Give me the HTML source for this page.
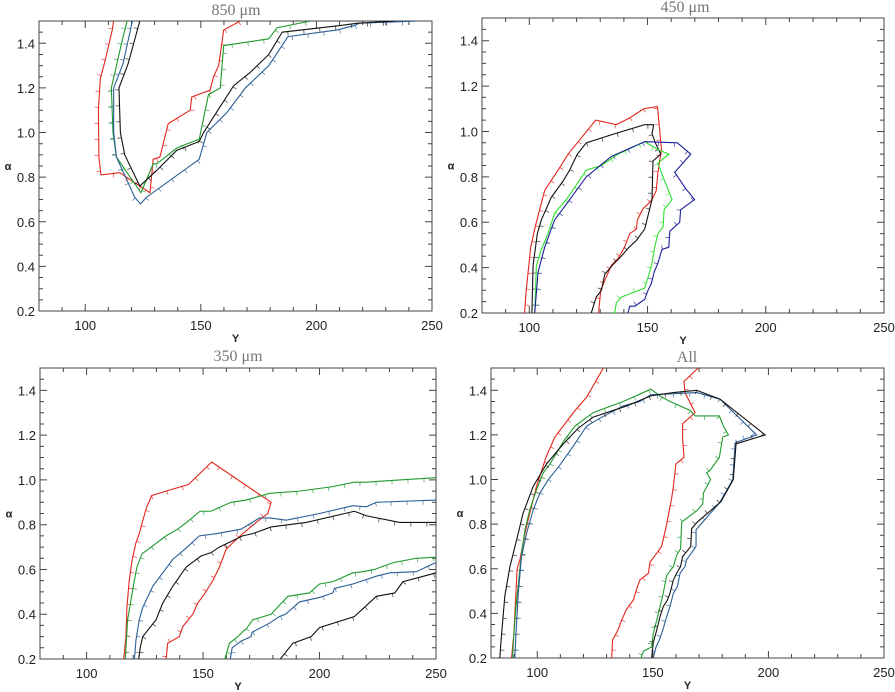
<!DOCTYPE html>
<html><head><meta charset="utf-8"><style>
body{margin:0;background:#fff;}
svg{display:block;font-family:"Liberation Sans",sans-serif;}
</style></head><body>
<svg id="chart" width="895" height="692" viewBox="0 0 895 692" xmlns="http://www.w3.org/2000/svg"></svg>
<script>
// ---- data (Y, alpha) contours per panel ----
const xTicks=[100,150,200,250];
const yTicks=[0.2,0.4,0.6,0.8,1.0,1.2,1.4];
const panelTitles=["850 μm","450 μm","350 μm","All"];

const p850_red_x=[112.3,111.7,108.3,106.5,105.7,105.9,106.8,114.9,117.8,128,129.4,132.3,135.9,145.4,146.1,154,155.5,157.7,159.9,167.1];
const p850_red_y=[1.5,1.46,1.31,1.24,1.10,0.89,0.81,0.82,0.80,0.73,0.88,0.89,1.04,1.10,1.16,1.19,1.25,1.30,1.46,1.5];
const p850_green_x=[118.1,115.7,111.3,112,113.5,124.1,129.4,130.9,139.6,141.7,149.3,153.3,158.4,159.9,179.4,183,197.5];
const p850_green_y=[1.5,1.4,1.2,1.0,0.89,0.73,0.86,0.86,0.93,0.94,0.97,1.17,1.2,1.39,1.42,1.47,1.5];
const p850_blue_x=[120.4,116.4,112.3,112.3,113.5,121.4,123.9,126.5,149.3,152.6,161.3,169.3,179.4,187.7,209.1,216.4,218.6,243.9];
const p850_blue_y=[1.5,1.31,1.2,1.0,0.89,0.71,0.68,0.71,0.88,1.0,1.09,1.2,1.3,1.43,1.46,1.48,1.49,1.5];
const p850_black_x=[123.6,118.6,114.6,115.2,117.1,123.6,130.9,139.6,149.3,151.2,155.5,164.2,171.4,179.4,185.2,210.6,217.8,233.8];
const p850_black_y=[1.5,1.31,1.2,1.0,0.9,0.76,0.83,0.92,0.96,1.0,1.07,1.21,1.27,1.35,1.45,1.48,1.49,1.5];

const p450_red_x=[98.0,98.7,100.6,102.5,106.5,112.8,116.4,120.3,128.1,136.8,142.5,148.4,154.2,155.9,154.4,153.7,151.9,150.2,148.1,145.7,145.3,142.5,140.3,137.5,134.7,132.2,130.2,129.3];
const p450_red_y=[0.2,0.3,0.49,0.58,0.74,0.84,0.9,0.95,1.05,1.03,1.06,1.1,1.11,0.92,0.82,0.74,0.7,0.68,0.66,0.61,0.57,0.55,0.49,0.44,0.41,0.35,0.3,0.2];
const p450_black_x=[101.1,101.6,103.4,105.1,109.3,114.2,117.1,120.3,124.1,136.1,148.8,152.6,151.9,153.3,155.6,152.3,151.9,148.8,145.3,142.2,138.9,135.1,131.9,130.5,128.3,126.2];
const p450_black_y=[0.2,0.41,0.55,0.61,0.71,0.78,0.83,0.9,0.95,0.99,1.03,1.03,0.99,0.95,0.9,0.87,0.7,0.57,0.52,0.49,0.45,0.41,0.37,0.3,0.27,0.2];
const p450_green_x=[102.3,103,105.1,107.9,110.7,115.7,124.1,130.5,137.5,148.8,154.4,159,154.4,157.3,160.4,157,156.6,154.4,153,151.9,150.9,148.8,138.9,136.8,136.1];
const p450_green_y=[0.2,0.41,0.48,0.55,0.64,0.7,0.83,0.85,0.9,0.955,0.92,0.9,0.86,0.78,0.7,0.655,0.58,0.55,0.49,0.42,0.38,0.31,0.27,0.245,0.2];
const p450_blue_x=[102.3,103.7,106.5,110.7,117.1,124.1,134.7,148.8,162.6,168.3,161.5,166,169.9,164,163.6,159.4,159,156.1,154.4,152.8,151.6,150.2,148.8,144.6,142.5,141.7];
const p450_blue_y=[0.2,0.38,0.49,0.61,0.7,0.8,0.89,0.955,0.95,0.9,0.82,0.75,0.7,0.655,0.6,0.56,0.49,0.48,0.42,0.38,0.33,0.3,0.26,0.23,0.23,0.2];

const p350_red_x=[115.9,116.9,117.3,118.3,119.5,121.2,122.6,125.5,127.9,134.1,143.8,153.7,179.2,177.8,172.8,167,162.8,159.9,157,154.2,150.6,147.7,145.6,141.3,139.8,134.8,134.1];
const p350_red_y=[0.195,0.3,0.43,0.55,0.64,0.72,0.76,0.87,0.93,0.95,0.98,1.08,0.9,0.85,0.81,0.76,0.72,0.69,0.61,0.55,0.49,0.45,0.4,0.345,0.3,0.27,0.195];
const p350_green_x=[116.6,117.6,120.5,121.6,123.8,127.7,134.1,139.1,144.1,148.7,153.4,162,168.5,178.5,191.4,205.7,214.8,220.1,234.4,250.1];
const p350_green_y=[0.195,0.375,0.55,0.61,0.67,0.7,0.75,0.78,0.82,0.86,0.86,0.9,0.91,0.94,0.95,0.97,0.99,0.99,1.0,1.01];
const p350_blue_x=[120.5,121.2,122.6,124.1,128.4,132.7,137,142.7,148.4,155.6,166.3,174.2,178.5,185.7,200,214.3,220.1,224.4,250.1];
const p350_blue_y=[0.195,0.285,0.375,0.43,0.525,0.585,0.645,0.695,0.75,0.76,0.78,0.83,0.83,0.82,0.85,0.885,0.88,0.9,0.91];
const p350_black_x=[122.3,123.1,124.1,129.8,132.7,137,142.7,149.1,153.4,157,167,171.3,179.2,194.3,215,220.1,234.4,250.1];
const p350_black_y=[0.195,0.255,0.3,0.375,0.45,0.525,0.61,0.66,0.675,0.7,0.75,0.76,0.79,0.81,0.86,0.84,0.81,0.81];
const p350_green2_x=[159.2,161.3,164.9,167.8,168.2,171.3,179.2,182.8,186.4,195.7,200,205.7,214.3,218.6,223.6,231.5,241.5,250.1];
const p350_green2_y=[0.195,0.27,0.3,0.33,0.33,0.375,0.4,0.44,0.48,0.495,0.535,0.545,0.585,0.59,0.6,0.63,0.65,0.655];
const p350_blue2_x=[161.6,162.5,166.3,170.6,171.1,178.5,182.8,185.4,191.4,200,205.7,206.4,214.3,224.4,230.1,241.5,248.7,250.1];
const p350_blue2_y=[0.195,0.25,0.28,0.3,0.32,0.36,0.39,0.4,0.455,0.475,0.495,0.515,0.535,0.57,0.585,0.59,0.625,0.63];
const p350_black2_x=[182.8,188.5,196.4,200,215,224.4,232.3,235.8,250.1];
const p350_black2_y=[0.195,0.27,0.3,0.34,0.39,0.48,0.495,0.545,0.585];

const pall_red_x=[88.9,89.9,91.3,92.5,94.7,96.8,99.7,103.8,107.6,115.6,121.4,128.6];
const pall_red_y=[0.2,0.31,0.6,0.64,0.76,0.85,0.97,1.1,1.19,1.3,1.37,1.5];
const pall_red2_x=[132.2,132.6,135.1,136.5,138.7,141.6,143,144.4,148.1,148.8,151.7,153.8,156,158.2,158.9,160,163.5,162.9,162.9,168.3,163.9,163.5,169.7];
const pall_red2_y=[0.2,0.28,0.33,0.37,0.42,0.46,0.51,0.55,0.58,0.63,0.67,0.7,0.8,0.92,0.97,1.07,1.1,1.18,1.25,1.3,1.39,1.44,1.5];
const pall_green_x=[89.3,89.9,90.8,93.2,94.7,96.8,99.7,102.6,105.5,111.3,116.3,124.2,137.2,149.1,153.8,157.4,166.1,168.3,178.8,180.5,182.7,180.2,178.8,174.7,173.3,175,171.9,171.6,169,162.5,162,160.3,158.9,156,154.5,153.1,151.7,150.2,149.5,145.9,144.9];
const pall_green_y=[0.2,0.31,0.43,0.67,0.775,0.865,0.955,1.03,1.07,1.17,1.24,1.3,1.35,1.405,1.37,1.35,1.31,1.285,1.285,1.24,1.2,1.19,1.1,1.04,1.03,1.0,0.94,0.89,0.86,0.81,0.69,0.66,0.61,0.57,0.49,0.43,0.37,0.31,0.25,0.23,0.2];
const pall_black_x=[83.8,84.6,86,88.2,91.1,93.9,98.3,104,111.3,117.7,124.2,138.7,149.1,158.9,169,179.1,198.6,186,184.8,179.4,169.3,166.8,166.4,162.9,162,160.3,158.9,157.4,156.3,154.5,153.1,151.7,150.2,149.5];
const pall_black_y=[0.2,0.31,0.48,0.61,0.73,0.85,0.97,1.07,1.16,1.23,1.28,1.33,1.375,1.39,1.4,1.36,1.2,1.16,1.0,0.9,0.81,0.78,0.7,0.655,0.61,0.58,0.55,0.49,0.46,0.43,0.385,0.325,0.27,0.2];
const pall_blue_x=[90.3,90.8,91.8,93.2,95.4,98.3,101.2,104.8,109.8,115.6,121.4,127.1,137.2,144.4,149.1,158.9,169,179.1,194.9,185.6,184.6,178.8,168.7,168.7,164.6,163.9,161.8,160.6,158.9,157.4,156,154.3,152.8,151.4,150.2];
const pall_blue_y=[0.2,0.31,0.49,0.655,0.76,0.865,0.94,1.0,1.065,1.15,1.24,1.275,1.33,1.35,1.38,1.385,1.39,1.36,1.2,1.165,1.0,0.895,0.775,0.7,0.64,0.61,0.58,0.52,0.49,0.43,0.385,0.325,0.28,0.25,0.2];

const RED="#e3261c",GRN="#1f9a2e",BLU="#2b5d96",BLK="#111",LGRN="#2ee02e",NAVY="#1c1c9c";
const panels=[
 {name:"panel-850um",title:panelTitles[0],L:39,R:432,T:21,B:311,tx:236,ty:15,
  series:[["red",p850_red_x,p850_red_y,RED],["green",p850_green_x,p850_green_y,GRN],["blue",p850_blue_x,p850_blue_y,BLU],["black",p850_black_x,p850_black_y,BLK]]},
 {name:"panel-450um",title:panelTitles[1],L:482,R:884,T:18,B:313,tx:685,ty:12,
  series:[["red",p450_red_x,p450_red_y,RED],["black",p450_black_x,p450_black_y,BLK],["green",p450_green_x,p450_green_y,LGRN],["blue",p450_blue_x,p450_blue_y,NAVY]]},
 {name:"panel-350um",title:panelTitles[2],L:40,R:436,T:368,B:659,tx:238,ty:361,
  series:[["red",p350_red_x,p350_red_y,RED],["green",p350_green_x,p350_green_y,GRN],["blue",p350_blue_x,p350_blue_y,BLU],["black",p350_black_x,p350_black_y,BLK],
          ["green-lower",p350_green2_x,p350_green2_y,GRN],["blue-lower",p350_blue2_x,p350_blue2_y,BLU],["black-lower",p350_black2_x,p350_black2_y,BLK]]},
 {name:"panel-all",title:panelTitles[3],L:491,R:884,T:368,B:658,tx:687,ty:362,
  series:[["red",pall_red_x,pall_red_y,RED],["red-right",pall_red2_x,pall_red2_y,RED],["green",pall_green_x,pall_green_y,GRN],["blue",pall_blue_x,pall_blue_y,BLU],["black",pall_black_x,pall_black_y,BLK]]}
];
const NS="http://www.w3.org/2000/svg";
const svg=document.getElementById('chart');
function mk(tag,attrs,parent){const e=document.createElementNS(NS,tag);for(const k in attrs)e.setAttribute(k,attrs[k]);(parent||svg).appendChild(e);return e;}
panels.forEach((p,pi)=>{
  const g=mk('g',{});
  
  
  const sx=v=>p.L+(v-80)/170*(p.R-p.L);
  const sy=v=>p.B-(v-0.2)/1.3*(p.B-p.T);
  const clipId='clip'+pi;
  const cp=mk('clipPath',{id:clipId},g);mk('rect',{x:p.L,y:p.T,width:p.R-p.L,height:p.B-p.T},cp);
  const frame=mk('rect',{x:p.L,y:p.T,width:p.R-p.L,height:p.B-p.T,fill:"none",stroke:"#444","stroke-width":1},g);
  
  
  let d="";
  for(let v=80;v<=250;v+=10){const x=sx(v);const L=(v%50===0)?7:4;d+=`M${x},${p.B}v${-L}M${x},${p.T}v${L}`;}
  for(let i=0;i<=26;i++){const v=0.2+i*0.05;const y=sy(v);const L=(i%4===0)?7:4;d+=`M${p.L},${y}h${L}M${p.R},${y}h${-L}`;}
  const tk=mk('path',{d:d,stroke:"#444","stroke-width":1,fill:"none"},g);
  
  
  xTicks.forEach(v=>{const t=mk('text',{x:sx(v),y:p.B+19,"text-anchor":"middle","font-size":"13",fill:"#222"},g);t.textContent=v;
    
    });
  yTicks.forEach(v=>{const t=mk('text',{x:p.L-4,y:sy(v)+5,"text-anchor":"end","font-size":"13",fill:"#222"},g);t.textContent=v.toFixed(1);
    
    });
  const xt=mk('text',{x:(p.L+p.R)/2,y:p.B+31,"text-anchor":"middle","font-size":"11","font-weight":"bold",fill:"#222"},g);xt.textContent="Y";
  
  
  const yt=mk('text',{x:p.L-31,y:(p.T+p.B)/2+4,"text-anchor":"middle","font-size":"11","font-weight":"bold",fill:"#222"},g);yt.textContent="α";
  
  
  const tt=mk('text',{x:p.tx,y:p.ty,"text-anchor":"middle","font-size":"16",fill:"#777","font-family":"Liberation Serif, serif"},g);tt.textContent=p.title;
  
  
  const cg=mk('g',{"clip-path":`url(#${clipId})`},g);
  p.series.forEach(s=>{
    const xs=s[1],ys=s[2],col=s[3];
    const pts=xs.map((v,i)=>[sx(v),sy(ys[i])]);
    const line=mk('polyline',{points:pts.map(q=>q.join(',')).join(' '),fill:"none",stroke:col,"stroke-width":1.1},cg);
    
    
    let td="",acc=8;
    for(let i=1;i<pts.length;i++){
      const [x0,y0]=pts[i-1],[x1,y1]=pts[i];const dx=x1-x0,dy=y1-y0,len=Math.hypot(dx,dy);if(!len)continue;
      while(acc<len){const tx=x0+dx*acc/len,ty=y0+dy*acc/len;const nx=-dy/len,ny=dx/len;td+=`M${tx},${ty}l${nx*4},${ny*4}`;acc+=16;}
      acc-=len;
    }
    const ticks=mk('path',{d:td,stroke:col,"stroke-width":0.8,fill:"none",opacity:0.75},cg);
    
    
  });
});
</script>
</body></html>
